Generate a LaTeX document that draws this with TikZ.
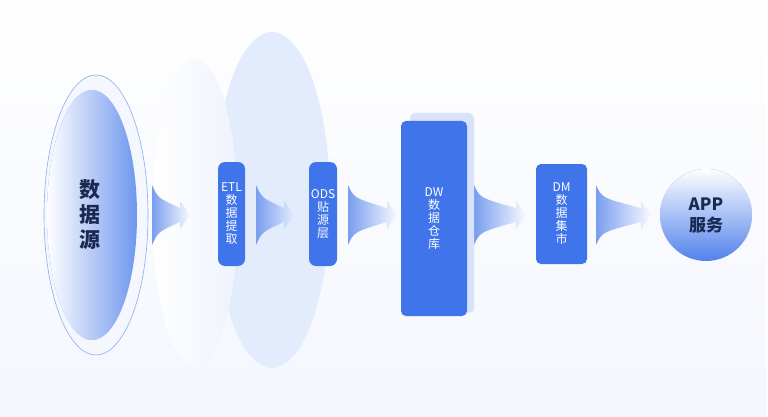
\documentclass[tikz,border=0pt]{standalone}
\usepackage{fontspec}
\setmainfont{Noto Sans CJK SC}
\usetikzlibrary{positioning,fadings}
\definecolor{boxblue}{HTML}{3F74EA}
\definecolor{paleblue}{HTML}{E3ECFC}
\definecolor{navy}{HTML}{1B2A52}
\tikzset{
  stage/.style={fill=boxblue,rounded corners=7pt,text=white,align=center,font=\fontsize{12}{13}\selectfont,inner sep=0pt},
  flow/.style={fill=boxblue!70,path fading=east},
}
\newcommand\flowarrow[2]{% start x, end x
  \fill[flow] (#1,185) .. controls (#1+6,198) .. (#2-10,208) -- (#2-10,201) -- (#2,215) -- (#2-10,229) -- (#2-10,222) .. controls (#1+6,232) .. (#1,245) -- cycle;}
\begin{document}
\begin{tikzpicture}[x=1pt,y=-1pt]
  \useasboundingbox (0,0) rectangle (768,417);
  \fill[white] (0,0) rectangle (768,417);
  \fill[paleblue!40,path fading=north] (0,0) rectangle (768,417);

  % background ellipses
  \fill[paleblue] (272,200) ellipse[x radius=58,y radius=168];
  \fill[paleblue!60!white] (195,213) ellipse[x radius=43,y radius=153];
  \fill[white!80,path fading=east] (195,213) ellipse[x radius=43,y radius=153];

  % source
  \draw[boxblue!60,line width=0.6pt,fill=paleblue!40] (96,215) ellipse[x radius=52,y radius=140];
  \fill[boxblue!75] (92,215) ellipse[x radius=45,y radius=125];
  \fill[white,path fading=east] (92,215) ellipse[x radius=45,y radius=125];
  \node[font=\fontsize{21}{25}\selectfont\bfseries,text=navy,align=center] (src) at (90,215) {数\\据\\源};

  % arrows
  \flowarrow{152}{190}
  \flowarrow{256}{294}
  \flowarrow{348}{397}
  \flowarrow{474}{526}
  \flowarrow{596}{651}

  % stages
  \node[stage,minimum height=104pt,minimum width=27pt,text width=27pt] (etl) at (231.5,214) {ETL\\数\\据\\提\\取};
  \node[stage,minimum height=104pt,minimum width=28pt,text width=28pt] (ods) at (323,214) {ODS\\贴\\源\\层};
  \fill[paleblue!70!boxblue!50,rounded corners=5pt] (410,113) rectangle (474,313);
  \node[stage,rounded corners=5pt,minimum height=195pt,minimum width=66pt,text width=66pt] (dw) at (434,218.5) {DW\\数\\据\\仓\\库};
  \node[stage,rounded corners=5pt,minimum height=100pt,minimum width=51pt,text width=51pt] (dm) at (561.5,214) {DM\\数\\据\\集\\市};

  % app
  \fill[boxblue!90] (706,215) circle[radius=46];
  \fill[white,path fading=south] (706,215) circle[radius=46];
  \node[font=\fontsize{17}{21}\selectfont\bfseries,text=navy,align=center] (app) at (706,215) {APP\\服务};
\end{tikzpicture}
\end{document}
